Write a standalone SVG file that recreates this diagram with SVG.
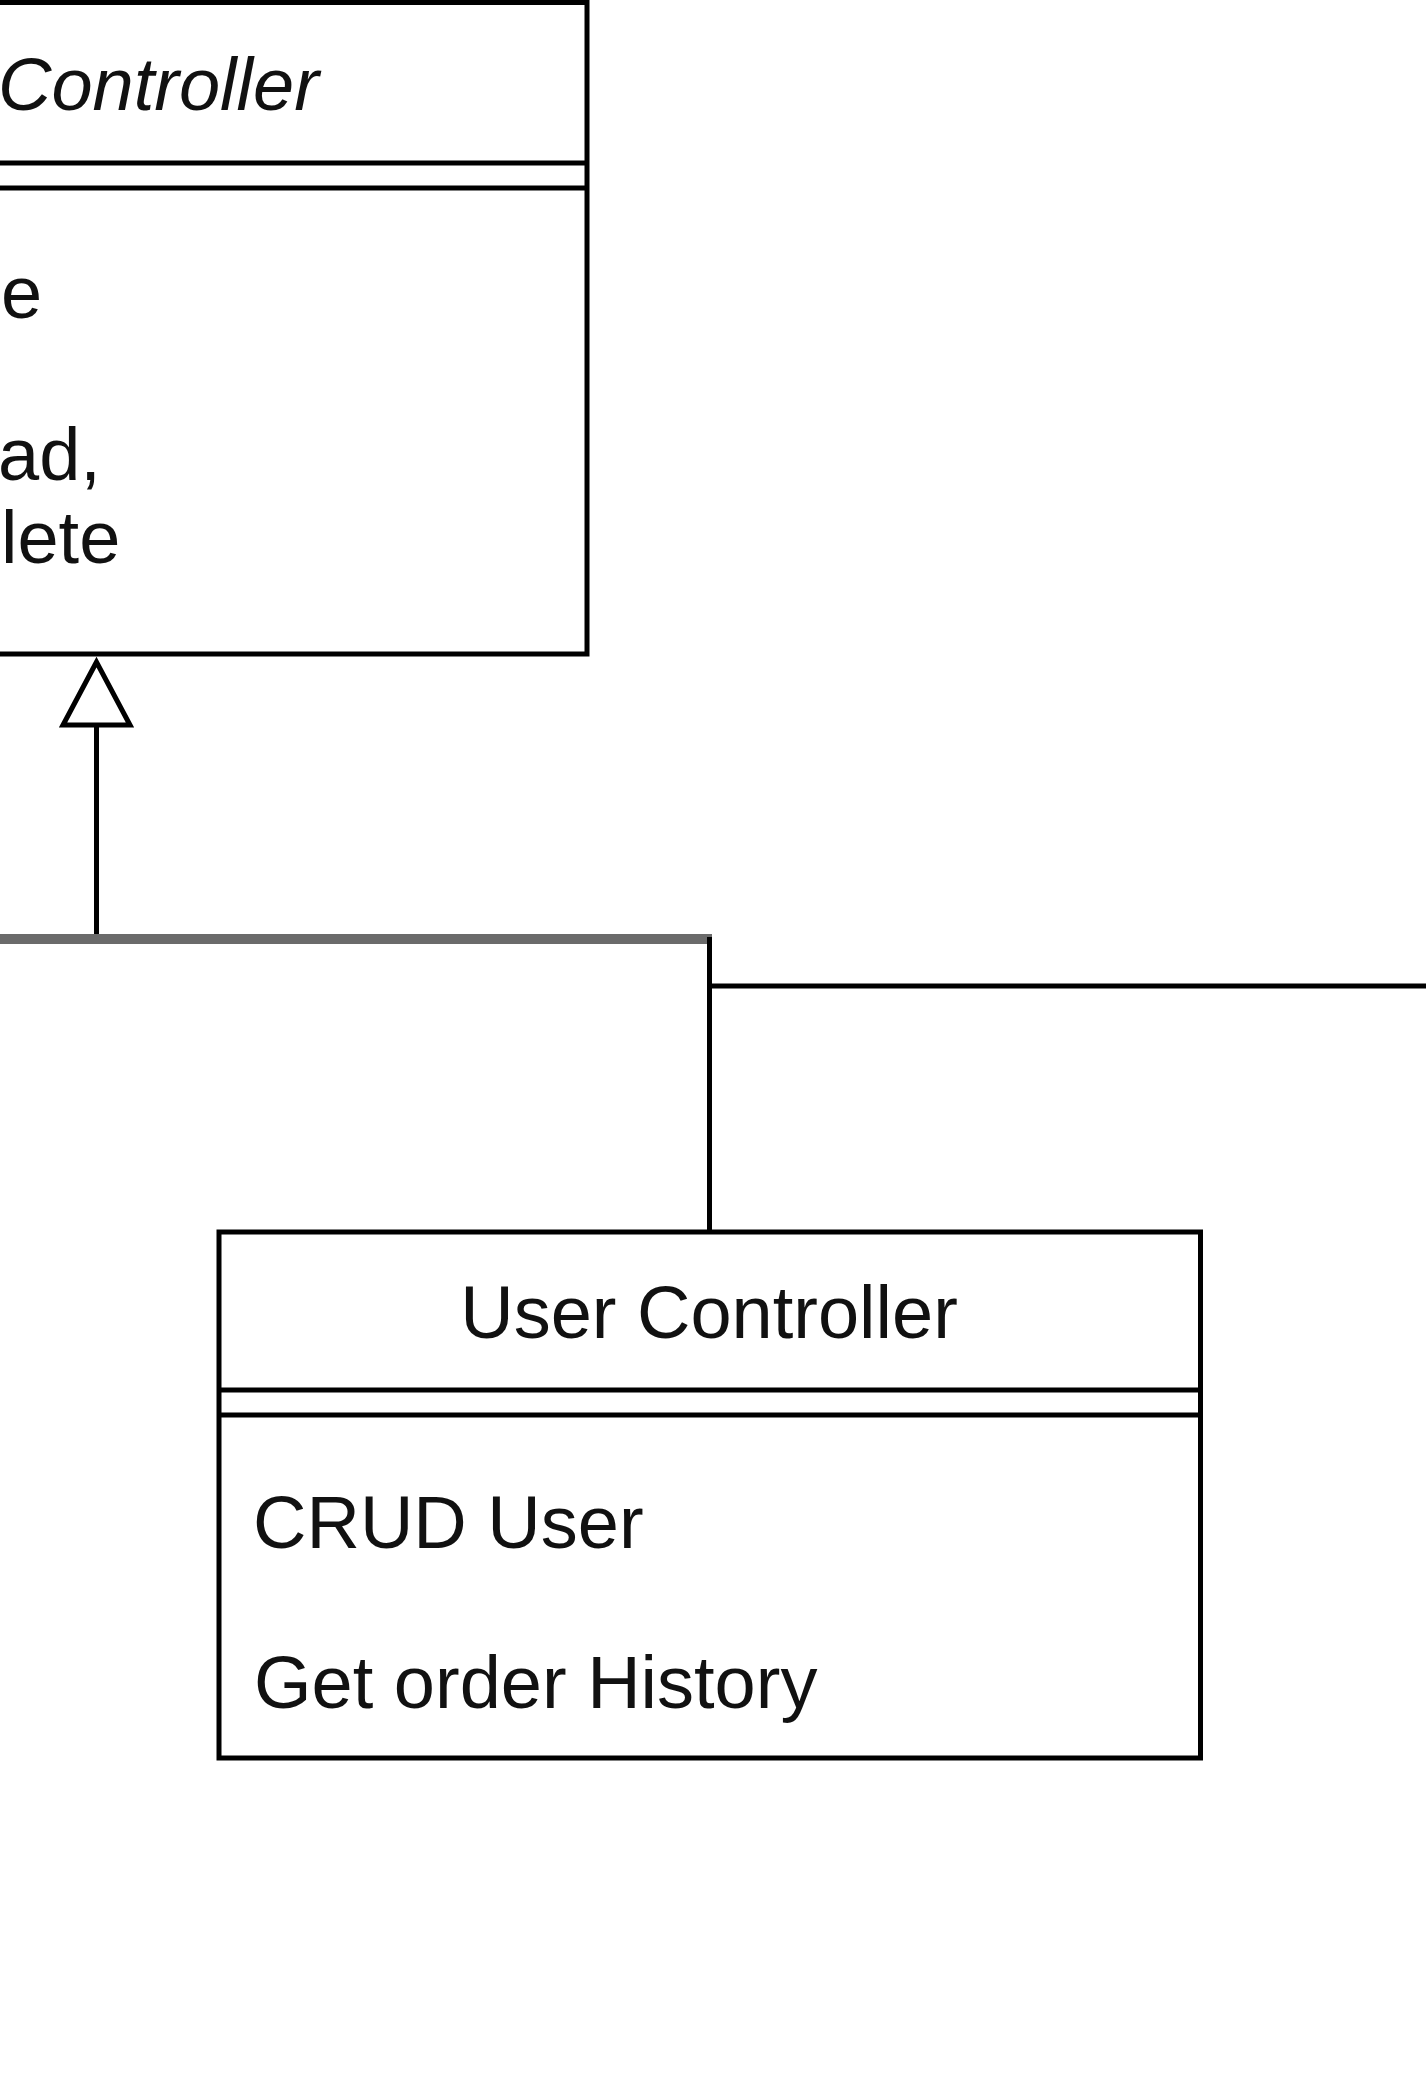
<svg xmlns="http://www.w3.org/2000/svg" width="1426" height="2100" viewBox="0 0 1426 2100">
<style>
.box{fill:#fff;stroke:#000;stroke-width:5}
.sep{stroke:#000;stroke-width:5;fill:none}
.edge{stroke:#000;stroke-width:5;fill:none}
.t{font-family:"Liberation Sans",Arial,sans-serif;font-size:74px;fill:#111}
.it{font-style:italic}
</style>
<rect width="1426" height="2100" fill="#fff"/>
<g id="connectors">
<line class="edge" x1="96.5" y1="725" x2="96.5" y2="939"/>
<polygon points="96.5,662 63,725 130,725" fill="#fff" stroke="#000" stroke-width="5"/>
<line x1="0" y1="939" x2="712" y2="939" stroke="#6b6b6b" stroke-width="10"/>
<polyline class="edge" points="709.5,937 709.5,1232"/>
<line class="edge" x1="709.5" y1="986" x2="1426" y2="986"/>
</g>
<g id="base-controller">
<rect class="box" x="-300" y="2.5" width="887" height="651.5"/>
<line class="sep" x1="-300" y1="163" x2="587" y2="163"/>
<line class="sep" x1="-300" y1="188" x2="587" y2="188"/>
<text class="t it" x="-2" y="110">Controller</text>
<text class="t" x="1" y="318">e</text>
<text class="t" x="-2" y="480">ad,</text>
<text class="t" x="1" y="563">lete</text>
</g>
<g id="user-controller">
<rect class="box" x="219" y="1232" width="981.5" height="526"/>
<line class="sep" x1="219" y1="1390" x2="1200.5" y2="1390"/>
<line class="sep" x1="219" y1="1415" x2="1200.5" y2="1415"/>
<text class="t" x="709" y="1338" text-anchor="middle">User Controller</text>
<text class="t" x="253" y="1548">CRUD User</text>
<text class="t" x="254" y="1708">Get order History</text>
</g>
</svg>
